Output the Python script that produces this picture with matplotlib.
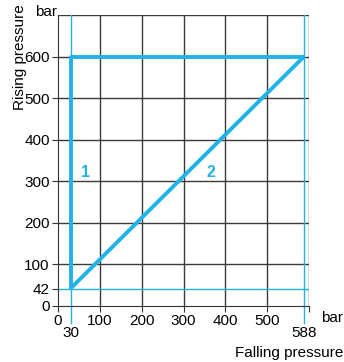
import matplotlib
matplotlib.use("Agg")
import matplotlib.pyplot as plt
from matplotlib.transforms import blended_transform_factory

plt.rcParams.update({"font.family": ["Liberation Sans", "DejaVu Sans"], "font.size": 11})
BLUE = "#1fb3ea"

falling_min, falling_max = 30, 588
rising_min, rising_max = 42, 600
curve1_x = [falling_min, falling_min, falling_max]
curve1_y = [rising_min, rising_max, rising_max]
curve2_x = [falling_min, falling_max]
curve2_y = [rising_min, rising_max]
xticks = [0, 100, 200, 300, 400, 500, 600]
xlabels = ["0", "100", "200", "300", "400", "500", ""]
yticks = [0, 42, 100, 200, 300, 400, 500, 600]

fig = plt.figure(figsize=(3.44, 3.62), dpi=100)
ax = fig.add_axes([0.1686, 0.1547, 0.7297, 0.8039])
ax.set_xlim(0, 600); ax.set_ylim(0, 700)
for v in [100, 200, 300, 400, 500, 600]:
    ax.axvline(v, color="#3a3a3a", lw=1, zorder=1)
for v in [100, 200, 300, 400, 500, 600, 700]:
    ax.axhline(v, color="#3a3a3a", lw=1, zorder=1)
for s in ["top", "right"]:
    ax.spines[s].set_visible(False)
ax.spines["left"].set_color("#333"); ax.spines["bottom"].set_color("#333")

# thin reference lines (the x ones run down past the axis as long ticks)
tr = blended_transform_factory(ax.transData, ax.transAxes)
for v in [falling_min, falling_max]:
    ax.plot([v, v], [-0.058, 1], color=BLUE, lw=1, transform=tr, clip_on=False, zorder=2)
ax.axhline(rising_min, color=BLUE, lw=1, zorder=2)
# curves
ax.plot(curve1_x, curve1_y, color=BLUE, lw=2.8, solid_capstyle="butt", zorder=3)
ax.plot(curve2_x, curve2_y, color=BLUE, lw=2.8, solid_capstyle="butt", zorder=3)
ax.text(65, 322, "1", color=BLUE, fontweight="bold", fontsize=11.5, ha="center", va="center")
ax.text(366, 322, "2", color=BLUE, fontweight="bold", fontsize=11.5, ha="center", va="center")

ax.set_xticks(xticks)
ax.set_xticklabels(xlabels)
for v in [falling_min, falling_max]:
    ax.text(v, -0.093, str(v), transform=tr, ha="center", va="center", fontsize=11)
ax.set_yticks(yticks)
ax.set_yticklabels([str(t) for t in yticks])
ax.tick_params(direction="out", length=4, color="#333", pad=2, labelsize=11)

fig.text(0.966, 0.122, "bar", fontsize=11, ha="center", va="center")
fig.text(0.998, 0.025, "Falling pressure", fontsize=11, ha="right", va="center")
fig.text(0.135, 0.967, "bar", fontsize=11, ha="center", va="center")
fig.text(0.057, 0.843, "Rising pressure", fontsize=11, rotation=90, ha="center", va="center")

fig.savefig("out.png", dpi=100)
